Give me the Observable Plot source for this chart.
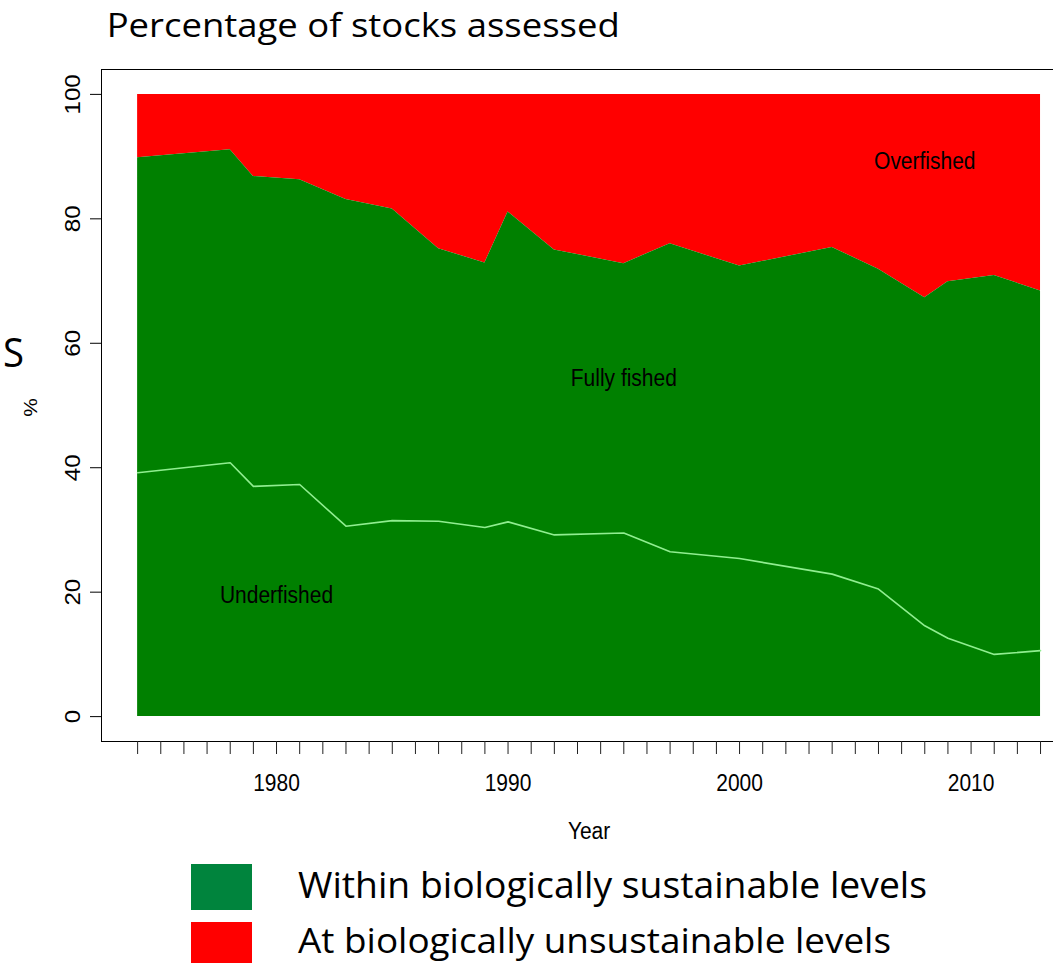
<!DOCTYPE html>
<html>
<head>
<meta charset="utf-8">
<script src="https://cdn.jsdelivr.net/npm/d3@7"></script>
<script src="https://cdn.jsdelivr.net/npm/@observablehq/plot@0.6"></script>
<style>
  html, body { margin: 0; padding: 0; background: #fff; }
  body { width: 1053px; height: 963px; overflow: hidden; position: relative; }
  #chart { position: absolute; left: 0; top: 0; }
  #overlay { position: absolute; left: 0; top: 0; pointer-events: none; }
</style>
</head>
<body>
<div id="chart"></div>
<svg id="overlay" width="1053" height="963" xmlns="http://www.w3.org/2000/svg">
  <text x="106.7" y="36.7" font-family="Open Sans, sans-serif" font-size="33" fill="#000" textLength="513" lengthAdjust="spacingAndGlyphs">Percentage of stocks assessed</text>
  <text x="3" y="366.7" font-family="Open Sans, sans-serif" font-size="41" fill="#000" textLength="21" lengthAdjust="spacingAndGlyphs">S</text>
  <rect x="191" y="864" width="61" height="46" fill="#00843d"></rect>
  <rect x="191" y="922" width="61" height="45" fill="#ff0000"></rect>
  <text x="298" y="898.3" font-family="Open Sans, sans-serif" font-size="37" fill="#000" textLength="629" lengthAdjust="spacingAndGlyphs">Within biologically sustainable levels</text>
  <text x="298" y="952.5" font-family="Open Sans, sans-serif" font-size="35" fill="#000" textLength="593" lengthAdjust="spacingAndGlyphs">At biologically unsustainable levels</text>
</svg>
<script>
// ---- Data ----
const years = [1974, 1978, 1979, 1981, 1983, 1985, 1987, 1989, 1990, 1992, 1995, 1997, 2000, 2004, 2006, 2008, 2009, 2011, 2013];
// upper edge of the green band: share of stocks within biologically sustainable levels (%)
const sustainable = [89.8, 91.1, 86.8, 86.3, 83.1, 81.6, 75.2, 72.9, 81.1, 75.0, 72.8, 76.0, 72.4, 75.4, 71.9, 67.3, 69.9, 70.9, 68.4];
// light green line: underfished share (%)
const underfished = [39.2, 40.8, 37.0, 37.3, 30.6, 31.5, 31.4, 30.4, 31.3, 29.2, 29.5, 26.5, 25.4, 22.9, 20.5, 14.6, 12.6, 10.0, 10.6];
const tickYears = [1974,1975,1976,1977,1978,1979,1980,1981,1982,1983,1984,1985,1986,1987,1988,1989,1990,1991,1992,1993,1994,1995,1996,1997,1998,1999,2000,2001,2002,2003,2004,2005,2006,2007,2008,2009,2010,2011,2012,2013];
const labelYears = [1980, 1990, 2000, 2010];
const yTicks = [0, 20, 40, 60, 80, 100];
const regionNames = ["Underfished", "Fully fished", "Overfished"];
const regionYears = [1980, 1995, 2008];
const regionValues = [19.5, 54.3, 89.2];

// R-style plot region: data range padded by 4% on each side (right side is cut off by the picture)
const fullX = [1972.44, 2014.56];
const visibleX = [1972.44, 2013.56];
const yDomain = [-4, 104];

const data = years.map((yr, i) => ({year: yr, sust: sustainable[i], under: underfished[i]}));
const regions = regionNames.map((t, i) => ({text: t, year: regionYears[i], value: regionValues[i]}));

const font = "'Liberation Sans', Arial, Helvetica, sans-serif";

const plot = Plot.plot({
  width: 1053,
  height: 860,
  marginLeft: 101,
  marginRight: 0,
  marginTop: 69,
  marginBottom: 119,
  x: {domain: visibleX},
  y: {domain: yDomain},
  style: {fontFamily: font, fontSize: "21px", background: "transparent", color: "#000", overflow: "visible"},
  marks: [
    Plot.areaY(data, {x: "year", y1: "sust", y2: () => 100, fill: "#ff0000"}),
    Plot.areaY(data, {x: "year", y1: () => 0, y2: "sust", fill: "#008000"}),
    Plot.lineY(data, {x: "year", y: "under", stroke: "#90ee90", strokeWidth: 1.6}),
    Plot.text(regions, {x: "year", y: "value", text: "text", fill: "#000", fontSize: 21}),
    Plot.ruleY([yDomain[1]], {stroke: "#000", strokeWidth: 1}),
    Plot.ruleY([yDomain[0]], {stroke: "#000", strokeWidth: 1}),
    Plot.ruleX([fullX[0]], {stroke: "#000", strokeWidth: 1}),
    Plot.axisX({ticks: tickYears, tickSize: 13, tickPadding: 19, stroke: "#222",
      tickFormat: d => labelYears.includes(d) ? String(d) : "", label: null, fontSize: 21}),
    Plot.axisY({ticks: yTicks, tickSize: 11, tickFormat: () => "", label: null, stroke: "#000"}),
    Plot.text(yTicks, {y: d => d, text: d => String(d), frameAnchor: "left", textAnchor: "middle", lineAnchor: "middle", dx: -29, rotate: -90, fontSize: 22, fill: "#000"}),
    Plot.text(["%"], {text: d => d, frameAnchor: "left", textAnchor: "middle", lineAnchor: "middle", dx: -71, dy: 2, rotate: -90, fontSize: 19, fill: "#000"}),
    Plot.text(["Year"], {x: () => (fullX[0] + fullX[1]) / 2, text: d => d, frameAnchor: "bottom", dy: 97, fontSize: 21, fill: "#000"})
  ]
});
document.getElementById("chart").appendChild(plot);

// The reference glyphs are slightly stretched vertically; mimic that.
plot.querySelectorAll("text").forEach(t => {
  const tr = t.getAttribute("transform");
  if (!tr) return;
  if (tr.includes("rotate")) t.setAttribute("transform", tr + " scale(1.1,1)");
  else t.setAttribute("transform", tr + " scale(1,1.15)");
});
</script>
</body>
</html>
